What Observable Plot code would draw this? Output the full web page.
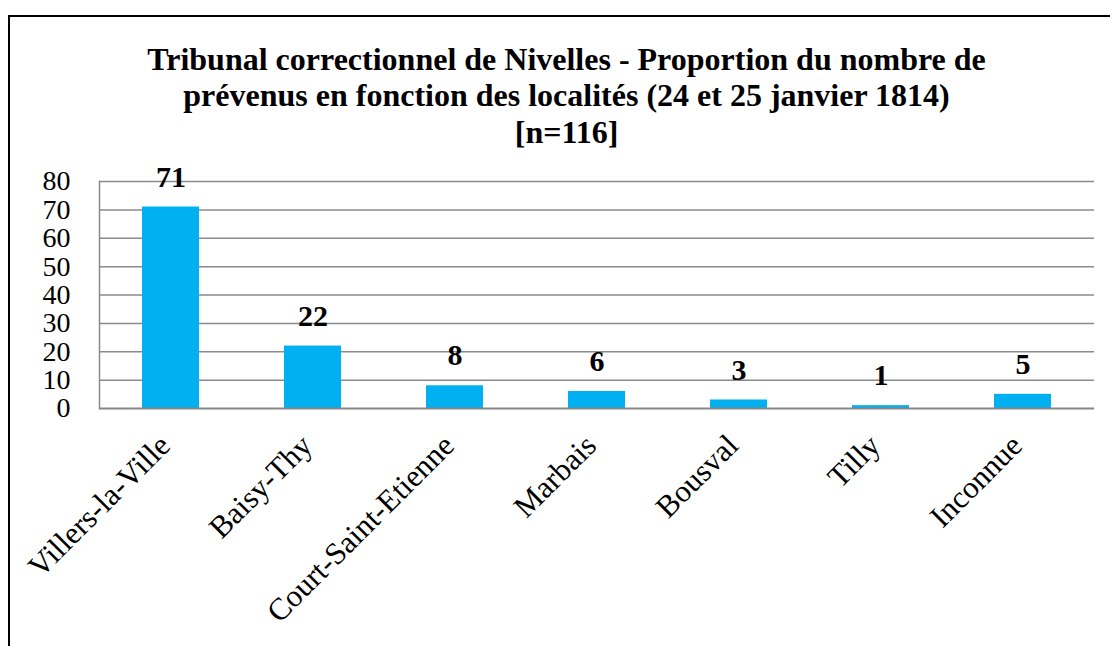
<!DOCTYPE html>
<html>
<head>
<meta charset="utf-8">
<script src="https://cdn.jsdelivr.net/npm/d3@7"></script>
<script src="https://cdn.jsdelivr.net/npm/@observablehq/plot@0.6"></script>
<style>
  html, body { margin: 0; padding: 0; background: #fff; }
  #wrap { position: relative; width: 1110px; height: 646px; overflow: hidden; }
  #frame { position: absolute; left: 8px; top: 15px; width: 1200px; height: 800px; border-left: 2px solid #000; border-top: 2px solid #000; box-sizing: border-box; }
  #chart { position: absolute; left: 0; top: 0; }
</style>
</head>
<body>
<div id="wrap">
  <div id="frame"></div>
  <div id="chart"></div>
</div>
<script>
const titleLines = ["Tribunal correctionnel de Nivelles - Proportion du nombre de", "prévenus en fonction des localités (24 et 25 janvier 1814)", "[n=116]"];
const localites = ["Villers-la-Ville", "Baisy-Thy", "Court-Saint-Etienne", "Marbais", "Bousval", "Tilly", "Inconnue"];
const prevenus = [71, 22, 8, 6, 3, 1, 5];
const yTicks = [0, 10, 20, 30, 40, 50, 60, 70, 80];

const data = localites.map((l, i) => ({localite: l, n: prevenus[i]}));
const font = "'Liberation Serif', serif";

const chart = Plot.plot({
  width: 1110,
  height: 646,
  marginLeft: 99,
  marginRight: 16,
  marginTop: 181,
  marginBottom: 238,
  style: {fontFamily: font, background: "transparent", color: "#000"},
  x: {domain: localites, paddingInner: 0.6, paddingOuter: 0.3, label: null},
  y: {domain: [0, 80], label: null},
  marks: [
    Plot.text([titleLines.join("\n")], {frameAnchor: "top-left", dx: 467, dy: -87, textAnchor: "middle", lineAnchor: "middle", lineHeight: 1.14, fontSize: 32, fontWeight: "bold", fill: "#000"}),
    Plot.ruleY(yTicks.filter(d => d > 0), {stroke: "#8a8a8a", strokeWidth: 1.5}),
    Plot.frame({anchor: "left", stroke: "#8a8a8a", strokeWidth: 1.5}),
    Plot.barY(data, {x: "localite", y: "n", fill: "#00B0F0"}),
    Plot.ruleY([0], {stroke: "#868686", strokeWidth: 2}),
    Plot.text(data, {x: "localite", y: "n", text: d => String(d.n), dy: -30, fontSize: 30, fontWeight: "bold", fill: "#000"}),
    Plot.axisY({ticks: yTicks, tickSize: 0, tickPadding: 29, fontSize: 28, tickFormat: d => String(d), fill: "#000"}),
    Plot.axisX({tickSize: 0, tickRotate: -45, tickPadding: 32, dx: -6, fontSize: 31, fill: "#000"})
  ]
});
document.getElementById("chart").appendChild(chart);
</script>
</body>
</html>
